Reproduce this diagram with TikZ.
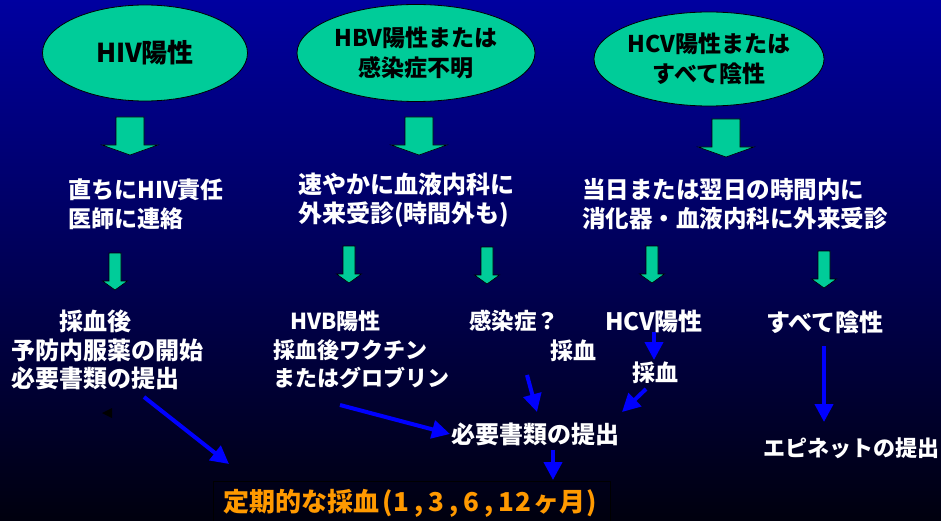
\documentclass[tikz,border=0pt]{standalone}
\usepackage{fontspec}
\setmainfont{Noto Sans CJK JP}
\usetikzlibrary{shapes.geometric,arrows.meta}
\definecolor{bgtop}{RGB}{0,0,160}
\definecolor{bgbot}{RGB}{0,0,14}
\definecolor{mint}{RGB}{0,204,153}
\definecolor{bluearr}{RGB}{0,0,255}
\definecolor{orangetxt}{RGB}{255,153,0}
\newcommand{\fsz}[1]{\fontsize{#1}{28.5}\selectfont}
\newcommand{\dgt}[1]{\makebox[17.5pt][c]{#1}}
\tikzset{
  oval/.style={ellipse,draw=black,line width=0.8pt,fill=mint,inner sep=0pt,align=center,
    font=\fontsize{23}{30}\selectfont\bfseries,text=black},
  wtext/.style={text=white,inner sep=0pt,font=\fsz{24}\bfseries},
  otext/.style={text=orangetxt,inner sep=0pt,font=\fontsize{26}{28}\selectfont\bfseries},
  barrow/.style={draw=bluearr,line width=4pt,-{Triangle[length=18pt,width=18pt]}},
  gblock/.style={draw=black,line width=0.6pt,fill=mint},
  bigdown/.pic={\path[gblock] (-14,0) -- (14,0) -- (14,28) -- (28,28) -- (0,38) -- (-28,28) -- (-14,28) -- cycle;},
  smalldown/.pic={\path[gblock] (-6,0) -- (6,0) -- (6,28) -- (12.5,28) -- (0,37) -- (-12.5,28) -- (-6,28) -- cycle;}
}
\begin{document}
\begin{tikzpicture}[x=1pt,y=-1pt]
\useasboundingbox (0,0) rectangle (941,521);
\shade[top color=bgtop,bottom color=bgbot] (0,0) rectangle (941,521);

% ovals
\node[oval,minimum width=205pt,minimum height=96pt,font=\fontsize{26}{30}\selectfont\bfseries] (e1) at (145,53) {HIV陽性};
\node[oval,minimum width=238pt,minimum height=97pt] (e2) at (416,53) {HBV陽性または\\感染症不明};
\node[oval,minimum width=212pt,minimum height=94pt] (e3) at (709,59) {HCV陽性または\\すべて陰性};

% big green arrows
\pic (g1) at (130,117) {bigdown};
\pic (g2) at (419,117) {bigdown};
\pic (g3) at (726,119) {bigdown};

% second row texts
\node[wtext,font=\fsz{23}\bfseries,anchor=west,align=left] (t1) at (68,204) {直ちにHIV責任\\医師に連絡};
\node[wtext,anchor=west,align=left] (t2) at (298,200) {速やかに血液内科に\\外来受診(時間外も)};
\node[wtext,font=\fsz{23.5}\bfseries,anchor=west,align=left] (t3) at (582,204) {当日または翌日の時間内に\\消化器・血液内科に外来受診};

% small green arrows
\pic (s1) at (115,253) {smalldown};
\pic (s2) at (349,246) {smalldown};
\pic (s3) at (487,247) {smalldown};
\pic (s4) at (652,246) {smalldown};
\pic (s5) at (824,251) {smalldown};

% third row texts
\node[wtext,anchor=west,align=left] (t4) at (11,350) {\hspace*{48pt}採血後\\予防内服薬の開始\\必要書類の提出};
\node[wtext,font=\fsz{22}\bfseries,anchor=west,align=left] (t5) at (273,350) {\hspace*{17pt}HVB陽性\\採血後ワクチン\\またはグロブリン};
\node[wtext,font=\fsz{22.5}\bfseries] (t6) at (514,321) {感染症？};
\node[wtext,font=\fsz{23}\bfseries] (t7) at (573,351) {採血};
\node[wtext] (t8) at (654,321) {HCV陽性};
\node[wtext,font=\fsz{23}\bfseries] (t9) at (655,373) {採血};
\node[wtext] (t10) at (825,322) {すべて陰性};
\node[wtext] (t11) at (535,434) {必要書類の提出};
\node[wtext,font=\fsz{22}\bfseries] (t12) at (851,448) {エピネットの提出};

% bottom box
\draw[black,line width=1pt] (213,521) -- (213,481) -- (610,481) -- (610,521);
\node[otext,anchor=west] (t13) at (223,503) {定期的な採血\hspace{3pt}(\dgt{1}\dgt{,}\dgt{3}\dgt{,}\dgt{6}\dgt{,}\dgt{1}\dgt{2}\hspace{1pt}ヶ月\hspace{1pt})};

% arrow end coordinates
\coordinate (a1s) at (144,397); \coordinate (a1e) at (229,464);
\coordinate (a2s) at (340,405); \coordinate (a2e) at (450,434);
\coordinate (a3s) at (527,375); \coordinate (a3e) at (537,412);
\coordinate (a4s) at (654,332); \coordinate (a4e) at (654,360);
\coordinate (a5s) at (646,389); \coordinate (a5e) at (622,412);
\coordinate (a6s) at (553,450); \coordinate (a6e) at (553,480);
\coordinate (a7s) at (824,346); \coordinate (a7e) at (824,422);

\draw[barrow] (a1s) -- (a1e);
\draw[barrow] (a2s) -- (a2e);
\draw[barrow] (a3s) -- (a3e);
\draw[barrow] (a4s) -- (a4e);
\draw[barrow] (a5s) -- (a5e);
\draw[barrow] (a6s) -- (a6e);
\draw[barrow] (a7s) -- (a7e);

% tiny black arrowhead
\fill[black] (102,413) -- (112,408) -- (112,418) -- cycle;
\end{tikzpicture}
\end{document}
